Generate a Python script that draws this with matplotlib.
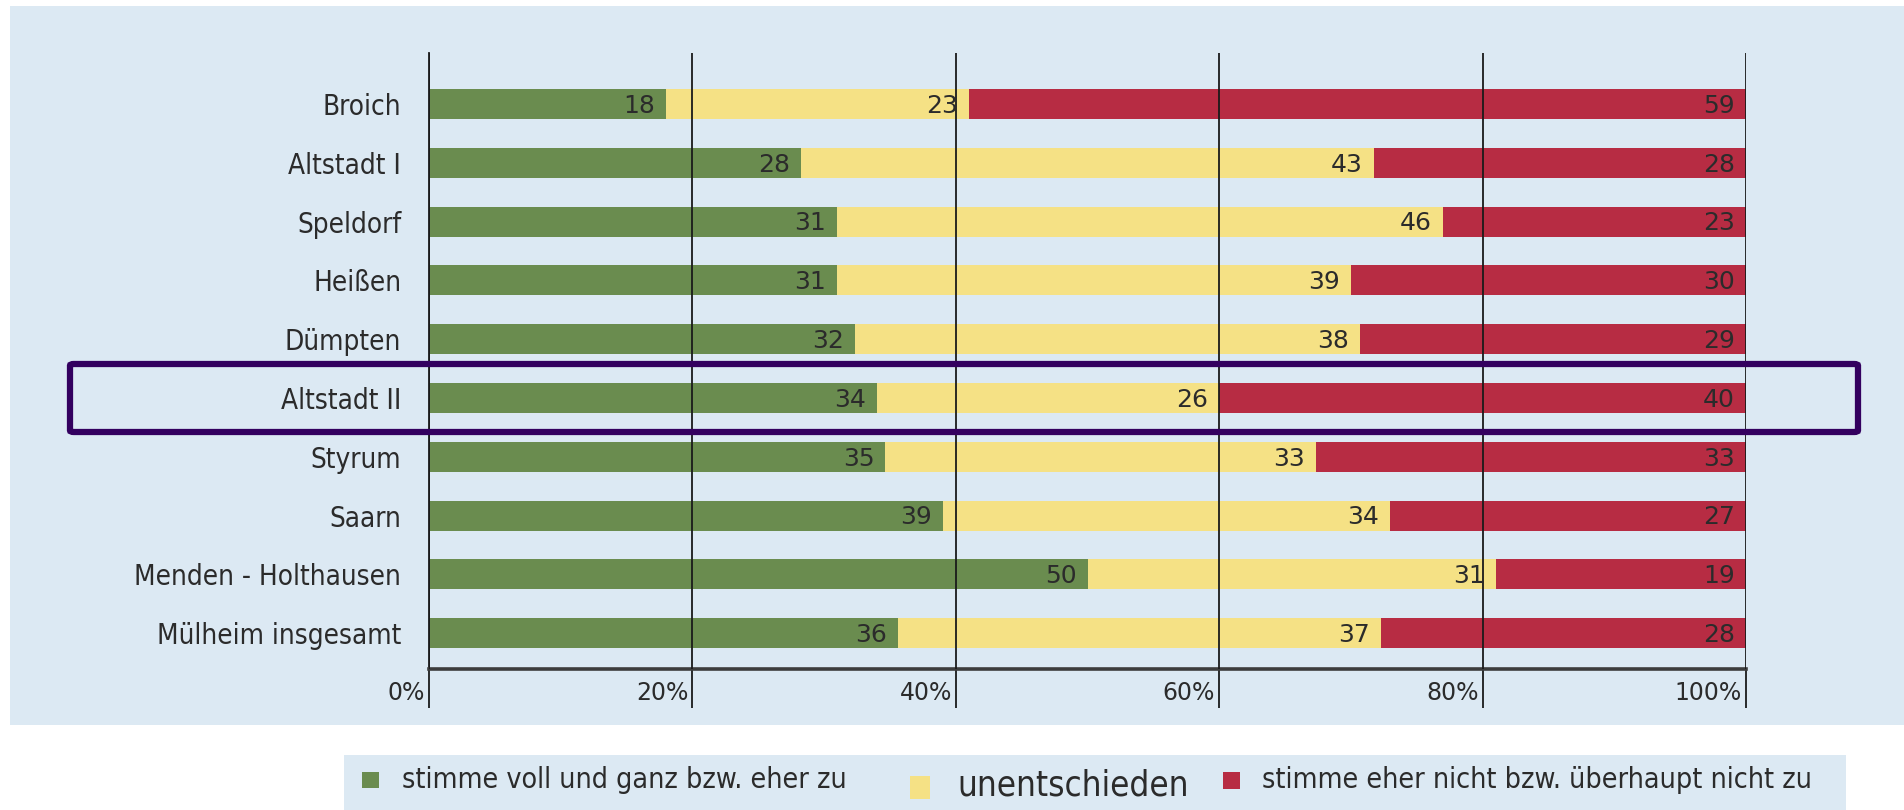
import numpy as np
import matplotlib.pyplot as plt
from matplotlib.patches import Rectangle, FancyBboxPatch
from matplotlib.transforms import blended_transform_factory, offset_copy

plt.rcParams['font.family'] = ['DejaVu Sans']
plt.rcParams['font.stretch'] = 'condensed'

districts = ["Broich", "Altstadt I", "Speldorf", "Heißen", "Dümpten",
             "Altstadt II", "Styrum", "Saarn", "Menden - Holthausen",
             "Mülheim insgesamt"]
agree = [18, 28, 31, 31, 32, 34, 35, 39, 50, 36]
undecided = [23, 43, 46, 39, 38, 26, 33, 34, 31, 37]
disagree = [59, 28, 23, 30, 29, 40, 33, 27, 19, 28]
series_names = ["stimme voll und ganz bzw. eher zu", "unentschieden",
                "stimme eher nicht bzw. überhaupt nicht zu"]
colors = ["#6a8c4f", "#f5e185", "#b72c43"]
xticks = [0, 20, 40, 60, 80, 100]
highlight = "Altstadt II"

bg = "#dce9f3"
txt = "#2b2b2b"

fig = plt.figure(figsize=(19.04, 8.10), dpi=100)
fig.patches.append(Rectangle((10/1904, 1-725/810), 1-10/1904, 719/810,
                             transform=fig.transFigure, facecolor=bg,
                             edgecolor="none", zorder=-2))
fig.patches.append(Rectangle((344/1904, 0), 1502/1904, 55/810,
                             transform=fig.transFigure, facecolor=bg,
                             edgecolor="none", zorder=-2))

ax = fig.add_axes([429/1904, 1-669/810, 1317/1904, 616/810])
ax.set_facecolor("none")
ax.set_zorder(1)

vals = np.array([agree, undecided, disagree], dtype=float)
pct = vals / vals.sum(axis=0) * 100
y = np.arange(len(districts))

left = np.zeros(len(districts))
for k in range(3):
    ax.barh(y, pct[k], left=left, height=0.51, color=colors[k], zorder=2)
    ends = left + pct[k]
    for i in range(len(districts)):
        t = offset_copy(ax.transData, fig=fig, x=-11, y=0, units="dots")
        ax.text(ends[i], y[i] + 0.03, str(int(vals[k, i])), transform=t,
                ha="right", va="center", fontsize=18, fontstretch="normal",
                color=txt, zorder=4)
    left = ends

ax.set_xlim(0, 100)
ax.set_ylim(len(districts) - 1 + 0.61, -0.87)

for x in xticks:
    ax.axvline(x, color="#1a1a1a", lw=1.3, zorder=3)

ax.set_yticks(y)
ax.set_yticklabels(districts, fontsize=20, color=txt)
ax.tick_params(axis="y", length=0, pad=20)
ax.set_xticks(xticks)
ax.tick_params(axis="x", length=28, width=1.3, color="#1a1a1a",
               labelbottom=False)
tr = blended_transform_factory(ax.transData, ax.transAxes)
for x in xticks:
    t = offset_copy(tr, fig=fig, x=-4, y=0, units="dots")
    ax.text(x, -24/616, f"{x}%", transform=t, ha="right", va="center",
            fontsize=17, fontstretch="normal", color=txt)

for s in ["top", "right"]:
    ax.spines[s].set_visible(False)
ax.spines["left"].set_color("#1a1a1a")
ax.spines["left"].set_linewidth(1.3)
ax.spines["bottom"].set_color("#3c3c3c")
ax.spines["bottom"].set_linewidth(2.6)

# highlight box around Altstadt II
fig.patches.append(FancyBboxPatch((70/1904, 1-432/810), 1788/1904, 68/810,
                                  boxstyle="round,pad=0,rounding_size=0.002",
                                  transform=fig.transFigure, facecolor="none",
                                  edgecolor="#33005f", lw=4.5, zorder=5))

# legend
sq = [(362, 772, 17, 16), (910, 776, 20, 23), (1223, 772, 17, 17)]
tx = [402, 957, 1262]
base = [788, 795, 788]
fs = [20.5, 25, 20.5]
for k in range(3):
    x0, y0, w, h = sq[k]
    fig.patches.append(Rectangle((x0/1904, 1-(y0+h)/810), w/1904, h/810,
                                 transform=fig.transFigure,
                                 facecolor=colors[k], edgecolor="none"))
    fig.text(tx[k]/1904, 1-base[k]/810, series_names[k], fontsize=fs[k],
             color=txt, ha="left", va="baseline")

fig.savefig("out.png", dpi=100)
